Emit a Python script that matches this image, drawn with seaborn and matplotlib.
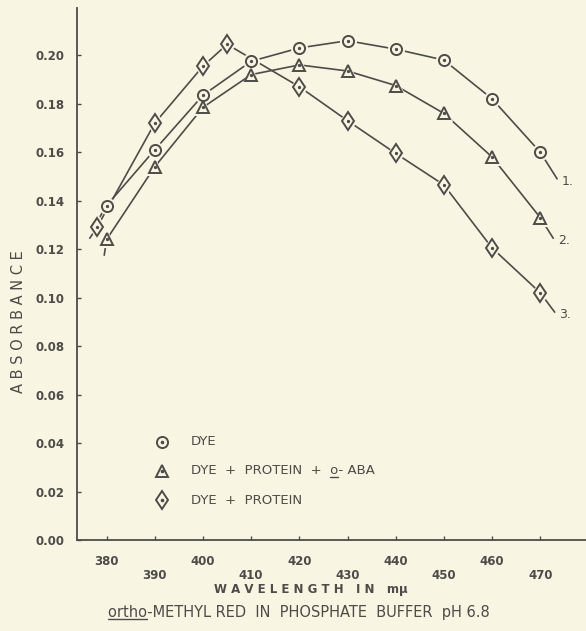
import matplotlib
matplotlib.use("Agg")
import matplotlib.pyplot as plt
import seaborn as sns
import pandas as pd
from matplotlib.lines import Line2D

# ---- data ----
wl_dye = [380, 390, 400, 410, 420, 430, 440, 450, 460, 470]
abs_dye = [0.138, 0.161, 0.1835, 0.1975, 0.203, 0.206, 0.2025, 0.198, 0.182, 0.160]

wl_aba = [380, 390, 400, 410, 420, 430, 440, 450, 460, 470]
abs_aba = [0.124, 0.154, 0.1785, 0.192, 0.196, 0.1935, 0.1875, 0.176, 0.158, 0.133]

wl_prot = [378, 390, 400, 405, 420, 430, 440, 450, 460, 470]
abs_prot = [0.129, 0.172, 0.1955, 0.2045, 0.187, 0.173, 0.1595, 0.1465, 0.1205, 0.102]

# hand-drawn curve tails (start, end)
tail_dye = ([378.5, 473.5], [0.133, 0.149])
tail_aba = ([379.5, 472.7], [0.1175, 0.1245])
tail_prot = ([376.5, 473.0], [0.1245, 0.094])

curve_labels = ["1.", "2.", "3."]
legend_labels = ["DYE", "DYE  +  PROTEIN  +  o- ABA", "DYE  +  PROTEIN"]
xticks = [380, 390, 400, 410, 420, 430, 440, 450, 460, 470]
yticks = [0.00, 0.02, 0.04, 0.06, 0.08, 0.10, 0.12, 0.14, 0.16, 0.18, 0.20]
title_text = "ortho-METHYL RED  IN  PHOSPHATE  BUFFER  pH 6.8"

BG = "#f8f5e3"
INK = "#4d4c48"

sns.set_theme(style="white")
plt.rcParams["font.family"] = ["DejaVu Sans"]

fig = plt.figure(figsize=(5.86, 6.31), dpi=100, facecolor=BG)
ax = fig.add_axes([0.131, 0.1442, 0.869, 0.8428])
ax.set_facecolor(BG)

series = [
    (wl_dye, abs_dye, tail_dye, "o", 8.0),
    (wl_aba, abs_aba, tail_aba, "^", 8.5),
    (wl_prot, abs_prot, tail_prot, "d", 9.5),
]

# curves (with tails)
for wl, ab, tail, m, ms in series:
    xs = [tail[0][0]] + list(wl) + [tail[0][1]]
    ys = [tail[1][0]] + list(ab) + [tail[1][1]]
    df = pd.DataFrame({"wl": xs, "abs": ys})
    sns.lineplot(data=df, x="wl", y="abs", ax=ax, color=INK, lw=1.2,
                 sort=False, estimator=None, legend=False)

# background blobs to create gaps around markers
for wl, ab, tail, m, ms in series:
    df = pd.DataFrame({"wl": wl, "abs": ab})
    sns.lineplot(data=df, x="wl", y="abs", ax=ax, lw=0, marker=m,
                 markersize=ms + 3.5, markerfacecolor=BG, markeredgecolor=BG,
                 color=BG, estimator=None, legend=False, zorder=3)

# open markers with centre dots
for wl, ab, tail, m, ms in series:
    df = pd.DataFrame({"wl": wl, "abs": ab})
    sns.lineplot(data=df, x="wl", y="abs", ax=ax, lw=0, marker=m,
                 markersize=ms, markerfacecolor="none", markeredgecolor=INK,
                 markeredgewidth=1.4, color=INK, estimator=None, legend=False,
                 zorder=4)
    sns.lineplot(data=df, x="wl", y="abs", ax=ax, lw=0, marker="o",
                 markersize=1.6, markerfacecolor=INK, markeredgecolor=INK,
                 color=INK, estimator=None, legend=False, zorder=5)

# curve number labels
for (wl, ab, tail, m, ms), lab in zip(series, curve_labels):
    ax.text(tail[0][1] + 1.0, tail[1][1] - 0.001, lab, color=INK, fontsize=9,
            ha="left", va="center")

# legend drawn as marker + text rows
leg_x_marker = 391.5
leg_x_text = 397.5
leg_y = [0.0405, 0.0285, 0.0165]
leg_texts = []
for (wl, ab, tail, m, ms), lab, yy in zip(series, legend_labels, leg_y):
    ax.plot([leg_x_marker], [yy], marker=m, ms=ms, mfc="none", mec=INK,
            mew=1.4, ls="none")
    ax.plot([leg_x_marker], [yy], marker="o", ms=1.6, mfc=INK, mec=INK, ls="none")
    t = ax.text(leg_x_text, yy, lab, color=INK, fontsize=9.5, ha="left",
                va="center")
    leg_texts.append(t)

ax.set_xlim(373.8, 479.5)
ax.set_ylim(0, 0.2194)

ax.set_yticks(yticks)
ax.set_yticklabels([f"{v:.2f}" for v in yticks], color=INK, fontsize=8.5,
                   fontweight="bold")
ax.set_xticks(xticks)
ax.set_xticklabels([str(v) if i % 2 == 0 else "\n" + str(v)
                    for i, v in enumerate(xticks)],
                   color=INK, fontsize=8.5, fontweight="bold", linespacing=1.1)
ax.tick_params(axis="y", direction="in", length=3, width=1, color=INK,
               pad=9, left=True)
ax.tick_params(axis="x", direction="in", length=3, width=1, color=INK,
               pad=11, bottom=True)

sns.despine(ax=ax, top=True, right=True)
for s in ("left", "bottom"):
    ax.spines[s].set_color(INK)
    ax.spines[s].set_linewidth(1.3)

ax.set_xlabel("W A V E L E N G T H   I N   mμ", color=INK, fontsize=8.5,
              fontweight="bold")
ax.xaxis.set_label_coords(0.46, -0.080)
ax.set_ylabel("A B S O R B A N C E", color=INK, fontsize=10.5)
ax.yaxis.set_label_coords(-0.099, 0.41)

title = fig.text(0.51, 0.030, title_text, ha="center", va="center",
                 color=INK, fontsize=10.5)

# --- underline helper: underline part of a text artist ---
fig.canvas.draw()
renderer = fig.canvas.get_renderer()


def underline_prefix(txt, prefix, start_chars=""):
    bb = txt.get_window_extent(renderer)
    fp = txt.get_fontproperties()
    tmp0 = fig.text(0, 0, start_chars, fontproperties=fp)
    tmp1 = fig.text(0, 0, start_chars + prefix, fontproperties=fp)
    w0 = tmp0.get_window_extent(renderer).width if start_chars else 0
    w1 = tmp1.get_window_extent(renderer).width
    tmp0.remove()
    tmp1.remove()
    x0 = bb.x0 + w0
    x1 = bb.x0 + w1
    y = bb.y0 + 0.5
    W, H = fig.bbox.width, fig.bbox.height
    fig.add_artist(Line2D([x0 / W, x1 / W], [y / H, y / H],
                          transform=fig.transFigure, color=INK, lw=1.0))


underline_prefix(title, "ortho")
underline_prefix(leg_texts[1], "o", start_chars="DYE  +  PROTEIN  +  ")

fig.savefig("out.png", dpi=100, facecolor=BG)
